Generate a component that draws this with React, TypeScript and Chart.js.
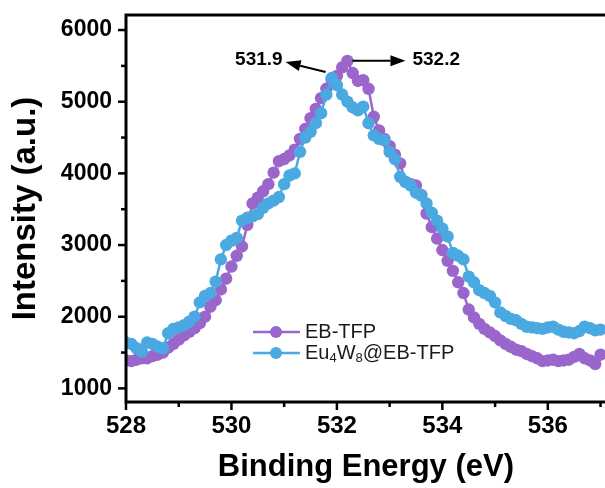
import React, { useEffect, useRef } from "react";
import { Chart, registerables } from "chart.js";

Chart.register(...registerables);

// Binding energy grid (eV): 528.0 .. 537.0 in 0.1 eV steps
const E_START = 528.0;
const E_STEP = 0.1;

const EB_TFP = [
  1390, 1380, 1400, 1420, 1420, 1450, 1470, 1500, 1570, 1620,
  1680, 1740, 1790, 1840, 1910, 2000, 2140, 2230, 2380, 2530,
  2700, 2850, 2980, 3280, 3580, 3660, 3750, 3850, 4010, 4170,
  4200, 4250, 4330, 4480, 4620, 4770, 4900, 5050, 5180, 5310,
  5360, 5480, 5570, 5400, 5290, 5300, 5180, 4790, 4600, 4480,
  4380, 4260, 4140, 3880, 3850, 3830, 3700, 3440, 3250, 3090,
  2930, 2780, 2640, 2480, 2330, 2100, 1990, 1900, 1830, 1780,
  1730, 1670, 1620, 1580, 1540, 1520, 1480, 1450, 1420, 1380,
  1390, 1400, 1380, 1390, 1400, 1440, 1480, 1420, 1390, 1340,
  1470,
];

const EU4W8_EB_TFP = [
  1640, 1620, 1560, 1510, 1640, 1620, 1580, 1560, 1770, 1830,
  1850, 1880, 1930, 2000, 2200, 2290, 2330, 2490, 2800, 3000,
  3060, 3100, 3340, 3380, 3400, 3430, 3520, 3580, 3620, 3670,
  3850, 3970, 4000, 4300, 4500, 4580, 4700, 4840, 5100, 5330,
  5230, 5100, 5000, 4920, 4880, 4930, 4700, 4530, 4480, 4460,
  4300, 4200, 3950, 3880, 3830, 3730, 3690, 3580, 3450, 3340,
  3230, 3120, 2890, 2850, 2800, 2560, 2480, 2370, 2330, 2290,
  2200, 2060, 2010, 1970, 1950, 1900, 1860, 1850, 1840, 1830,
  1850, 1860, 1820, 1790, 1780, 1770, 1800, 1860, 1840, 1810,
  1820,
];

const X_MAJOR = [528, 530, 532, 534, 536];
const X_MINOR = [529, 531, 533, 535, 537];
const Y_MAJOR = [1000, 2000, 3000, 4000, 5000, 6000];
const Y_MINOR = [1500, 2500, 3500, 4500, 5500];

const SERIES_NAMES = ["EB-TFP", "Eu4W8@EB-TFP"];
const PEAK_LABELS = ["531.9", "532.2"];

const PURPLE = "#9a66cb";
const BLUE = "#4aa9e1";
const FONT = "'Liberation Sans', Arial, sans-serif";

const toPoints = (vals: number[]) =>
  vals.map((v, i) => ({ x: +(E_START + i * E_STEP).toFixed(2), y: v }));

const peakIndex = (vals: number[]) => vals.indexOf(Math.max(...vals));

function drawArrow(ctx: CanvasRenderingContext2D, x1: number, y1: number, x2: number, y2: number) {
  const ang = Math.atan2(y2 - y1, x2 - x1);
  const hl = 15;
  const hw = 5.5;
  const bx = x2 - hl * Math.cos(ang);
  const by = y2 - hl * Math.sin(ang);
  ctx.beginPath();
  ctx.moveTo(x1, y1);
  ctx.lineTo(bx, by);
  ctx.lineWidth = 2;
  ctx.strokeStyle = "#000";
  ctx.stroke();
  ctx.beginPath();
  ctx.moveTo(x2, y2);
  ctx.lineTo(bx + hw * Math.sin(ang), by - hw * Math.cos(ang));
  ctx.lineTo(bx - hw * Math.sin(ang), by + hw * Math.cos(ang));
  ctx.closePath();
  ctx.fillStyle = "#000";
  ctx.fill();
}

const framePlugin = {
  id: "frameAndDecor",
  afterDraw(chart: any) {
    const { ctx, chartArea, scales } = chart;
    const xs = scales.x;
    const ys = scales.y;
    ctx.save();
    // frame: left, bottom, top
    ctx.strokeStyle = "#000";
    ctx.lineWidth = 3;
    ctx.beginPath();
    ctx.moveTo(chartArea.right + 2, chartArea.top);
    ctx.lineTo(chartArea.left, chartArea.top);
    ctx.lineTo(chartArea.left, chartArea.bottom);
    ctx.lineTo(chartArea.right + 2, chartArea.bottom);
    ctx.lineCap = "square";
    ctx.stroke();
    ctx.lineCap = "butt";
    // tick marks (outward)
    ctx.lineWidth = 2.5;
    const yTick = (v: number, len: number) => {
      const y = ys.getPixelForValue(v);
      ctx.beginPath();
      ctx.moveTo(chartArea.left - 1, y);
      ctx.lineTo(chartArea.left - 1 - len, y);
      ctx.stroke();
    };
    const xTick = (v: number, len: number) => {
      const x = xs.getPixelForValue(v);
      ctx.beginPath();
      ctx.moveTo(x, chartArea.bottom + 1);
      ctx.lineTo(x, chartArea.bottom + 1 + len);
      ctx.stroke();
    };
    Y_MAJOR.forEach((v) => yTick(v, 7));
    Y_MINOR.forEach((v) => yTick(v, 4));
    X_MAJOR.forEach((v) => xTick(v, 7));
    X_MINOR.forEach((v) => xTick(v, 4));

    // legend
    const lx = chartArea.left + 127;
    const rows = [
      { y: chartArea.top + 317, color: PURPLE },
      { y: chartArea.top + 338, color: BLUE },
    ];
    rows.forEach((r) => {
      ctx.strokeStyle = r.color;
      ctx.lineWidth = 2.5;
      ctx.beginPath();
      ctx.moveTo(lx, r.y);
      ctx.lineTo(lx + 47, r.y);
      ctx.stroke();
      ctx.fillStyle = r.color;
      ctx.beginPath();
      ctx.arc(lx + 23, r.y, 6, 0, Math.PI * 2);
      ctx.fill();
    });
    ctx.fillStyle = "#1a1a1a";
    ctx.textBaseline = "middle";
    ctx.textAlign = "left";
    const tx = lx + 52;
    ctx.font = `20px ${FONT}`;
    ctx.fillText(SERIES_NAMES[0], tx, rows[0].y);
    // Eu4W8@EB-TFP with subscripts
    const parts: [string, boolean][] = [
      ["Eu", false],
      ["4", true],
      ["W", false],
      ["8", true],
      ["@EB-TFP", false],
    ];
    let cx = tx;
    parts.forEach(([t, sub]) => {
      ctx.font = sub ? `13px ${FONT}` : `20px ${FONT}`;
      ctx.fillText(t, cx, rows[1].y + (sub ? 5 : 0));
      cx += ctx.measureText(t).width;
    });

    // peak annotations
    const pb = peakIndex(EU4W8_EB_TFP);
    const pp = peakIndex(EB_TFP);
    const bxp = xs.getPixelForValue(E_START + pb * E_STEP);
    const byp = ys.getPixelForValue(EU4W8_EB_TFP[pb]);
    const pxp = xs.getPixelForValue(E_START + pp * E_STEP);
    const pyp = ys.getPixelForValue(EB_TFP[pp]);
    drawArrow(ctx, bxp - 6, byp - 6, bxp - 46, byp - 16);
    drawArrow(ctx, pxp + 5, pyp, pxp + 58, pyp);
    ctx.font = `bold 19px ${FONT}`;
    ctx.fillStyle = "#000";
    ctx.textAlign = "right";
    ctx.fillText(PEAK_LABELS[0], bxp - 49, pyp - 1);
    ctx.textAlign = "left";
    ctx.fillText(PEAK_LABELS[1], pxp + 65, pyp - 1);
    ctx.restore();
  },
};

export default function App() {
  const ref = useRef<HTMLCanvasElement>(null);
  useEffect(() => {
    if (!ref.current) return;
    const chart = new Chart(ref.current, {
      type: "line",
      data: {
        datasets: [
          {
            label: SERIES_NAMES[0],
            data: toPoints(EB_TFP),
            borderColor: PURPLE,
            backgroundColor: PURPLE,
            pointBackgroundColor: PURPLE,
            pointBorderWidth: 0,
            pointRadius: 6.2,
            borderWidth: 2.5,
            tension: 0,
            order: 2,
            clip: 0,
          },
          {
            label: SERIES_NAMES[1],
            data: toPoints(EU4W8_EB_TFP),
            borderColor: BLUE,
            backgroundColor: BLUE,
            pointBackgroundColor: BLUE,
            pointBorderWidth: 0,
            pointRadius: 6.2,
            borderWidth: 2.5,
            tension: 0,
            order: 1,
            clip: 0,
          },
        ],
      },
      options: {
        responsive: false,
        animation: false,
        layout: { padding: { top: 15, left: 0, right: 0, bottom: 0 } },
        plugins: { legend: { display: false }, tooltip: { enabled: false } },
        scales: {
          x: {
            type: "linear",
            position: "bottom",
            min: 528,
            max: 537.1,
            afterBuildTicks: (s: any) => {
              s.ticks = [...X_MAJOR, ...X_MINOR].sort((a, b) => a - b).map((v) => ({ value: v }));
            },
            afterFit: (s: any) => {
              s.height = 86;
              s.paddingLeft = 0;
              s.paddingRight = 0;
            },
            ticks: {
              autoSkip: false,
              maxRotation: 0,
              padding: 2,
              color: "#000",
              font: { family: FONT, size: 24, weight: "bold" },
              callback: (v: any) => (X_MAJOR.includes(Number(v)) ? String(v) : ""),
            },
            grid: { display: true, drawOnChartArea: false, drawTicks: true, tickLength: 8, color: "rgba(0,0,0,0)" },
            border: { display: false },
            title: {
              display: true,
              text: "Binding Energy (eV)",
              color: "#000",
              font: { family: FONT, size: 31, weight: "bold" },
              padding: { top: 0, bottom: 2 },
            },
          },
          y: {
            type: "linear",
            min: 810,
            max: 6210,
            afterBuildTicks: (s: any) => {
              s.ticks = [...Y_MAJOR, ...Y_MINOR].sort((a, b) => a - b).map((v) => ({ value: v }));
            },
            afterFit: (s: any) => {
              s.width = 126;
              s.paddingTop = 0;
              s.paddingBottom = 0;
            },
            ticks: {
              autoSkip: false,
              padding: 6,
              color: "#000",
              font: { family: FONT, size: 23, weight: "bold" },
              callback: (v: any) => (Y_MAJOR.includes(Number(v)) ? String(v) : ""),
            },
            grid: { display: true, drawOnChartArea: false, drawTicks: true, tickLength: 8, color: "rgba(0,0,0,0)" },
            border: { display: false },
            title: {
              display: true,
              text: "Intensity (a.u.)",
              color: "#000",
              font: { family: FONT, size: 33, weight: "bold" },
              padding: { top: 6, bottom: 0 },
            },
          },
        },
      },
      plugins: [framePlugin],
    } as any);
    return () => chart.destroy();
  }, []);
  return (
    <div style={{ position: "absolute", left: 0, top: 0, width: 605, height: 488, overflow: "hidden", background: "#fff" }}>
      <canvas ref={ref} width={612} height={488} style={{ width: 612, height: 488, display: "block" }} />
    </div>
  );
}
